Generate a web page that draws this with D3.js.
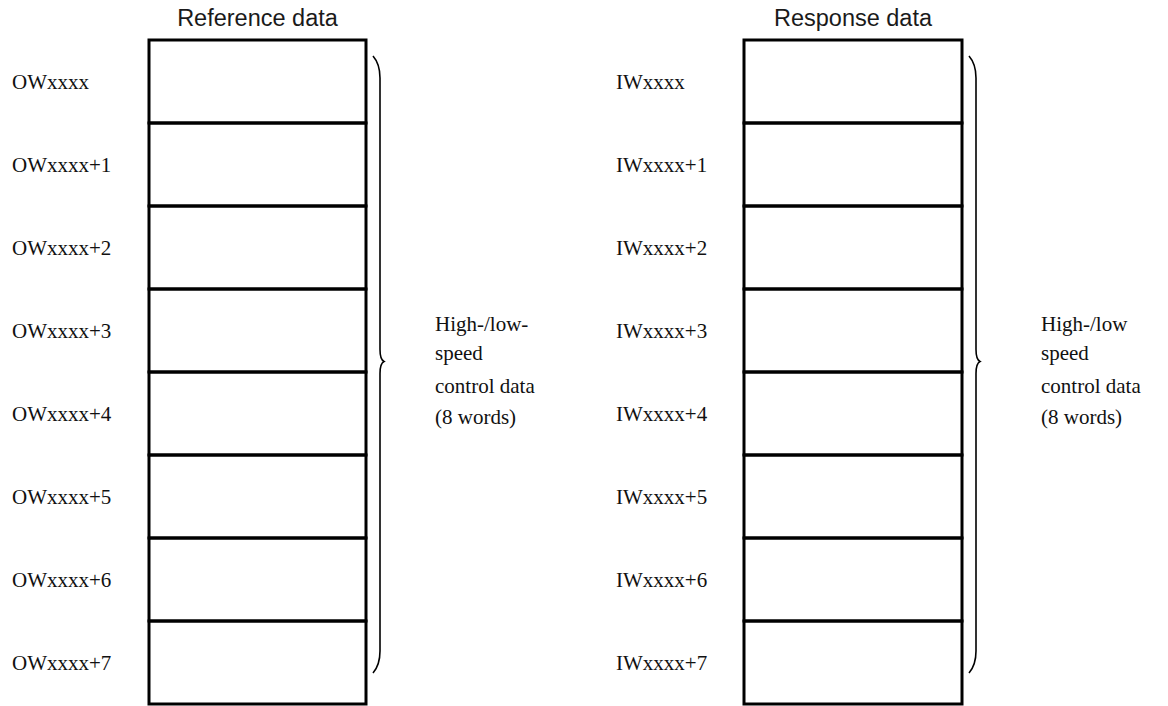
<!DOCTYPE html>
<html>
<head>
<meta charset="utf-8">
<script src="https://cdn.jsdelivr.net/npm/d3@7"></script>
<style>
  html, body { margin: 0; padding: 0; background: #fff; }
  svg { display: block; }
</style>
</head>
<body>
<svg id="chart" width="1168" height="706"></svg>
<script>
// data
const panelTitles = ["Reference data", "Response data"];
const panelPrefixes = ["OW", "IW"];
const wordOffsets = [0, 1, 2, 3, 4, 5, 6, 7];
const braceNotes = [
  ["High-/low-", "speed", "control data", "(8 words)"],
  ["High-/low", "speed", "control data", "(8 words)"],
];

const svg = d3.select("#chart");

// layout
const boxTop = 40, boxBottom = 704;
const panels = [
  { boxX: 149, boxW: 217, labelX: 12, noteX: 435 },
  { boxX: 744, boxW: 218, labelX: 616, noteX: 1041 },
];
const noteBaselines = [331, 360, 393, 424];

const y = d3.scaleBand().domain(wordOffsets).range([boxTop, boxBottom]).paddingInner(0);

const labelText = (prefix, i) => prefix + "xxxx" + (i === 0 ? "" : "+" + i);

panels.forEach((p, k) => {
  const g = svg.append("g");

  // title
  g.append("text")
    .attr("x", p.boxX + p.boxW / 2)
    .attr("y", 26)
    .attr("text-anchor", "middle")
    .attr("font-family", "Liberation Sans, Arial, sans-serif")
    .attr("font-size", 23.5)
    .attr("fill", "#1a1a1a")
    .text(panelTitles[k]);

  // word cells
  g.selectAll("rect.cell")
    .data(wordOffsets)
    .join("rect")
    .attr("class", "cell")
    .attr("x", p.boxX)
    .attr("y", d => y(d))
    .attr("width", p.boxW)
    .attr("height", y.bandwidth())
    .attr("fill", "none")
    .attr("stroke", "#000")
    .attr("stroke-width", 3);

  // addresses
  g.selectAll("text.addr")
    .data(wordOffsets)
    .join("text")
    .attr("class", "addr")
    .attr("x", p.labelX)
    .attr("y", d => y(d) + y.bandwidth() / 2 + 7)
    .attr("font-family", "Liberation Serif, 'Times New Roman', serif")
    .attr("font-size", 21)
    .attr("fill", "#111")
    .text(d => labelText(panelPrefixes[k], d));

  // brace
  const bx = p.boxX + p.boxW + 14;
  const y0 = 56, y1 = 673, ym = (y0 + y1) / 2 - 3;
  const brace = d3.path();
  brace.moveTo(bx - 7, y0);
  brace.quadraticCurveTo(bx, y0 + 8, bx, y0 + 22);
  brace.lineTo(bx, ym - 12);
  brace.quadraticCurveTo(bx, ym - 2, bx + 4, ym);
  brace.quadraticCurveTo(bx, ym + 2, bx, ym + 12);
  brace.lineTo(bx, y1 - 22);
  brace.quadraticCurveTo(bx, y1 - 8, bx - 7, y1);
  g.append("path")
    .attr("d", brace.toString())
    .attr("fill", "none")
    .attr("stroke", "#000")
    .attr("stroke-width", 1.6);

  // note beside brace
  g.selectAll("text.note")
    .data(braceNotes[k])
    .join("text")
    .attr("class", "note")
    .attr("x", p.noteX)
    .attr("y", (d, i) => noteBaselines[i])
    .attr("font-family", "Liberation Serif, 'Times New Roman', serif")
    .attr("font-size", 21)
    .attr("fill", "#111")
    .text(d => d);
});
</script>
</body>
</html>
